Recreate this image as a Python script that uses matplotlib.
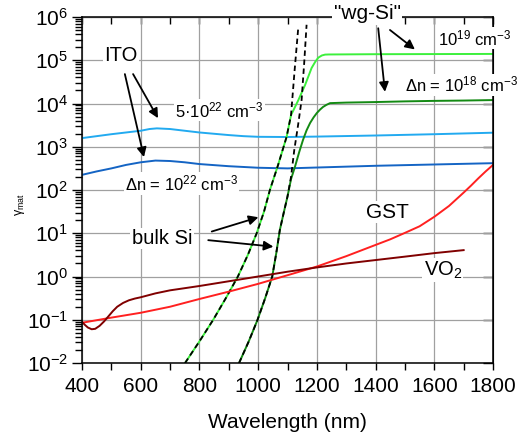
import matplotlib
matplotlib.use('Agg')
import matplotlib.pyplot as plt
from matplotlib.ticker import MultipleLocator, LogLocator, NullLocator, NullFormatter

plt.rcParams['font.family'] = ['Liberation Sans', 'DejaVu Sans']
plt.rcParams['mathtext.default'] = 'regular'

# ---------------- data (wavelength in nm, gamma_mat) ----------------
ito_hi_nm = [400, 450, 500, 550, 600, 630, 655, 700, 750, 800, 850, 900, 950,
             1000, 1100, 1200, 1400, 1600, 1800]
ito_hi_g = [1585, 1758, 1950, 2138, 2344, 2570, 2661, 2570, 2344, 2138, 1995,
            1862, 1758, 1698, 1679, 1718, 1820, 1950, 2113]

ito_lo_nm = [400, 450, 500, 550, 600, 650, 700, 750, 800, 900, 1000, 1100,
             1200, 1400, 1600, 1800]
ito_lo_g = [224, 269, 316, 380, 437, 479, 468, 437, 398, 355, 327, 316, 331,
            363, 389, 417]

wg19_nm = [751, 800, 847, 890, 931, 965, 995, 1020, 1040, 1068, 1097, 1112,
           1137, 1160, 1182, 1195, 1205, 1217, 1228, 1240, 1400, 1600, 1800]
wg19_g = [1.0e-2, 3.16e-2, 1.0e-1, 3.16e-1, 1.0, 3.16, 10.0, 31.6, 100, 380,
          1700, 5370, 12000, 26900, 66100, 93300, 115000, 129000, 135000,
          136000, 138000, 139000, 140000]

wg18_nm = [935, 968, 998, 1024, 1048, 1062, 1074, 1088, 1100, 1112, 1126,
           1140, 1153, 1165, 1177, 1189, 1200, 1211, 1221, 1233, 1245, 1300,
           1400, 1500, 1600, 1700, 1800]
wg18_g = [1.0e-2, 3.16e-2, 1.0e-1, 3.16e-1, 1.0, 3.55, 12.0, 31.6, 70.8, 178,
          355, 759, 1450, 2400, 3550, 4790, 6030, 7240, 8320, 9330, 10200,
          10500, 10800, 11200, 11500, 11700, 12000]

bulkA_nm = [751, 800, 847, 890, 931, 965, 995, 1020, 1040, 1068, 1097, 1112,
            1124, 1137]
bulkA_g = [1.0e-2, 3.16e-2, 1.0e-1, 3.16e-1, 1.0, 3.16, 10.0, 31.6, 100, 380,
           1700, 5370, 56200, 603000]

bulkB_nm = [935, 968, 998, 1024, 1048, 1062, 1074, 1088, 1100, 1112, 1123,
            1136, 1148, 1157, 1165]
bulkB_g = [1.0e-2, 3.16e-2, 1.0e-1, 3.16e-1, 1.0, 3.55, 12.0, 31.6, 70.8, 200,
           832, 3160, 12000, 89100, 661000]

gst_nm = [400, 500, 600, 700, 800, 900, 1000, 1100, 1200, 1300, 1400, 1450,
          1500, 1550, 1600, 1650, 1700, 1725, 1750, 1775, 1800]
gst_g = [0.0851, 0.112, 0.145, 0.200, 0.302, 0.447, 0.676, 1.07, 1.70, 2.95,
         5.37, 7.24, 10.2, 14.5, 24.0, 42.7, 87.1, 126, 186, 269, 380]

vo2_nm = [400, 410, 420, 433, 445, 460, 475, 490, 505, 520, 540, 560, 580,
          600, 650, 700, 750, 800, 900, 1000, 1100, 1200, 1300, 1400, 1500,
          1600, 1700]
vo2_g = [0.0891, 0.0759, 0.0661, 0.0603, 0.0617, 0.0724, 0.0912, 0.120,
         0.158, 0.200, 0.245, 0.282, 0.309, 0.331, 0.407, 0.479, 0.537, 0.603,
         0.776, 1.0, 1.29, 1.62, 2.0, 2.40, 2.88, 3.47, 4.07]

x_ticks = [400, 600, 800, 1000, 1200, 1400, 1600, 1800]

# ---------------- figure ----------------
fig = plt.figure(figsize=(5.2, 4.33), dpi=100)
ax = fig.add_axes([82 / 520, 70 / 433, 411 / 520, 346 / 433])

ax.set_yscale('log')
ax.set_xlim(400, 1800)
ax.set_ylim(1e-2, 1e6)
ax.set_axisbelow(True)
ax.grid(True, which='major', color='#a0a0a0', lw=0.9)

lw = 1.4
ax.plot(ito_hi_nm, ito_hi_g, color='#22aaf0', lw=lw)
ax.plot(ito_lo_nm, ito_lo_g, color='#1464c4', lw=lw)
ax.plot(wg19_nm, wg19_g, color='#3cf03c', lw=lw)
ax.plot(wg18_nm, wg18_g, color='#138a13', lw=lw)
ax.plot(bulkA_nm, bulkA_g, color='black', lw=1.3, dashes=(3, 2))
ax.plot(bulkB_nm, bulkB_g, color='black', lw=1.3, dashes=(3, 2))
ax.plot(gst_nm, gst_g, color='#ff2020', lw=lw)
ax.plot(vo2_nm, vo2_g, color='#800000', lw=lw)

# ticks
ax.set_xticks(x_ticks)
ax.xaxis.set_minor_locator(MultipleLocator(100))
ax.yaxis.set_major_locator(LogLocator(base=10, numticks=20))
ax.yaxis.set_minor_locator(LogLocator(base=10, subs=range(2, 10), numticks=20))
ax.yaxis.set_minor_formatter(NullFormatter())
ax.tick_params(axis='both', which='both', direction='out', labelsize=15,
               width=1.0)
ax.tick_params(axis='x', which='major', length=5, pad=5)
ax.tick_params(axis='x', which='minor', length=5)
ax.tick_params(axis='y', which='major', length=7, pad=3)
ax.tick_params(axis='y', which='minor', length=5)

for s in ax.spines.values():
    s.set_linewidth(1.1)

secx = ax.secondary_xaxis('top')
secx.set_xticks(range(400, 1801, 100))
secx.xaxis.set_major_formatter(NullFormatter())
secx.xaxis.set_minor_locator(NullLocator())
secx.tick_params(direction='in', length=5, width=1.0)

secy = ax.secondary_yaxis('right')
secy.yaxis.set_major_locator(LogLocator(base=10, numticks=20))
secy.yaxis.set_minor_locator(NullLocator())
secy.yaxis.set_major_formatter(NullFormatter())
secy.tick_params(direction='in', length=7, width=1.0)

ax.set_xlabel('Wavelength (nm)', fontsize=15, labelpad=12)
ax.text(-0.151, 0.457, 'γ$_{mat}$', transform=ax.transAxes, rotation=90,
        ha='center', va='center', fontsize=9)

# ---------------- annotations ----------------
box = dict(facecolor='white', edgecolor='none', pad=1.0)
tk = dict(zorder=6, bbox=box, clip_on=False)
ap = dict(arrowstyle='-|>', color='black', lw=1.3, mutation_scale=14,
          shrinkA=0, shrinkB=0)

ax.text(532, 10**5.10, 'ITO', fontsize=14.5, ha='center', va='center', **tk)
ax.text(717, 10**3.85, '5·10$^{22}$ cm$^{-3}$', fontsize=12, ha='left',
        va='center', **tk)
ax.text(546, 10**2.155, 'Δn = 10$^{22}$ cm$^{-3}$', fontsize=12, ha='left',
        va='center', **tk)
ax.annotate('', xy=(659, 10**3.66), xytext=(574, 10**4.68), arrowprops=ap,
            zorder=5)
ax.annotate('', xy=(611, 10**2.76), xytext=(546, 10**4.68), arrowprops=ap,
            zorder=5)

ax.text(1372, 10**6.07, '"wg-Si"', fontsize=15, ha='center', va='center', **tk)
ax.text(1613, 10**5.51, '10$^{19}$ cm$^{-3}$', fontsize=12, ha='left',
        va='center', **tk)
ax.text(1500, 10**4.43, 'Δn = 10$^{18}$ cm$^{-3}$', fontsize=12, ha='left',
        va='center', **tk)
ax.annotate('', xy=(1534, 10**5.25), xytext=(1449, 10**5.70), arrowprops=ap,
            zorder=5, annotation_clip=False)
ax.annotate('', xy=(1432, 10**4.27), xytext=(1409, 10**5.74), arrowprops=ap,
            zorder=5, annotation_clip=False)

ax.text(1442, 10**1.49, 'GST', fontsize=15, ha='center', va='center', **tk)
ax.text(1629, 10**0.15, 'VO$_2$', fontsize=14.5, ha='center', va='center', **tk)

ax.text(673, 10**0.88, 'bulk Si', fontsize=14.5, ha='center', va='center', **tk)
ax.annotate('', xy=(1001, 10**1.37), xytext=(842, 10**1.04), arrowprops=ap,
            zorder=5)
ax.annotate('', xy=(1052, 10**0.69), xytext=(830, 10**0.84), arrowprops=ap,
            zorder=5)

fig.savefig('out.png', dpi=100)
